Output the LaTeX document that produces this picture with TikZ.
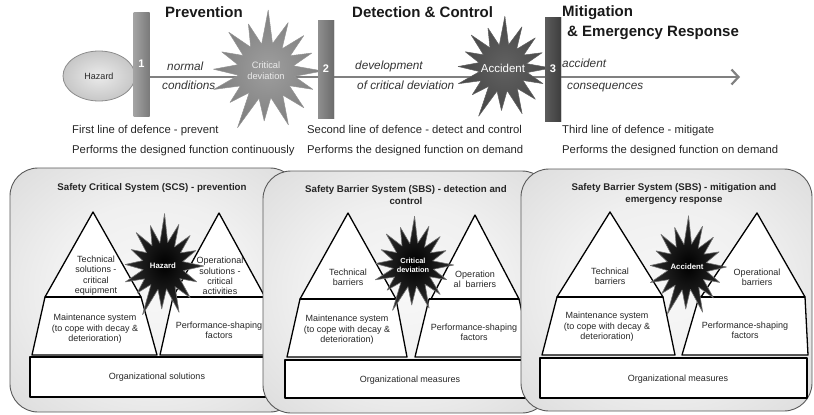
\documentclass[tikz,border=0pt]{standalone}
\usepackage{fontspec}
\setmainfont{Liberation Sans}
\usetikzlibrary{arrows.meta,calc,shapes.geometric}

% irregular explosion outline: angle/radius pairs, starting from (0:55)
\def\burstlist{11/28,22/49,33/27,45/52,56/29,68/58,80/27,92/50,104/28,116/63,127/27,138/47,149/29,160/54,171/27,182/51,193/28,204/47,215/27,227/53,238/28,250/50,261/27,272/61,283/28,294/53,305/27,316/51,327/28,338/48,349/27}

\newcommand{\burst}[4]{%
  \begin{scope}[shift={(#1)},xscale=#2,yscale=#3]
    \shadedraw[#4] (0:55) \foreach \a/\r in \burstlist {-- (\a:\r)} -- cycle;
  \end{scope}}

% soft light-grey glow for the system panels
\pgfdeclareradialshading{panelglow}{\pgfpoint{0bp}{0bp}}{%
  color(0bp)=(black!3); color(18bp)=(black!6); color(32bp)=(black!12);
  color(42bp)=(black!19); color(50bp)=(black!27)}

\begin{document}
\begin{tikzpicture}[x=1pt,y=-1pt,
  heading/.style={font=\bfseries\fontsize{15}{18}\selectfont, anchor=west, inner sep=0, text=black!90, text height=0.75em, text depth=0.2em},
  flowlabel/.style={font=\itshape\fontsize{11.8}{14}\selectfont, anchor=west, inner sep=0, text=black!80, text height=0.72em, text depth=0.2em},
  defence/.style={font=\fontsize{11.3}{13.5}\selectfont, anchor=west, inner sep=0, text=black!85, text height=0.72em, text depth=0.2em},
  barnode/.style={minimum width=16pt, inner sep=0, text=white, font=\bfseries\fontsize{11}{13}\selectfont, draw=none},
  flowline/.style={draw=black!50, line width=2.6pt, -{Straight Barb[length=7pt,width=15pt,line width=2.2pt]}},
  panelbox/.style={draw=black!65, line width=0.9pt, rounded corners=28pt, shading=panelglow},
  blockshape/.style={draw=black, line width=1.3pt, fill=white, line join=round},
  sepline/.style={draw=black, line width=2.6pt},
  paneltitle/.style={font=\bfseries\fontsize{9.7}{11.6}\selectfont, align=center, inner sep=0, text=black!85},
  paneltext/.style={font=\fontsize{9}{10.4}\selectfont, align=center, inner sep=0, text=black!85},
  darkburst/.style={inner color=black, outer color=black!82, draw=black!55, line width=0.6pt, line join=round},
  bursttext/.style={font=\bfseries\fontsize{7.8}{9}\selectfont, align=center, inner sep=0, text=white}
]
\useasboundingbox (0,0) rectangle (814,415);

% ---------------- event sequence ----------------
\node[ellipse, minimum width=72pt, minimum height=50pt, inner sep=0,
      draw=black!45, line width=0.8pt, inner color=black!8, outer color=black!22,
      font=\fontsize{9}{11}\selectfont, text=black!85] (hz) at (99,76) {Hazard};

\coordinate (arrowend) at (740,77);
\node[barnode, minimum height=104pt, left color=black!36, right color=black!52] (b1) at (141.5,64) {1};
\node[barnode, minimum height=98pt, left color=black!44, right color=black!58] (b2) at (326,69) {2};
\node[barnode, minimum height=104pt, left color=black!64, right color=black!76] (b3) at (553,69) {3};

\draw[flowline] (b1.east |- arrowend) -- (arrowend);

\coordinate (cdc) at (266,71);
\burst{cdc}{1.03}{1.0}{inner color=black!38, outer color=black!50, draw=black!42, line width=0.5pt, line join=round}
\coordinate (acc) at (503,68);
\burst{acc}{0.88}{0.85}{inner color=black!62, outer color=black!72, draw=black!62, line width=0.5pt, line join=round}

% bars drawn again over the bursts
\node[barnode, minimum height=98pt, left color=black!44, right color=black!58] (b2top) at (b2) {2};
\node[barnode, minimum height=104pt, left color=black!64, right color=black!76] (b3top) at (b3) {3};

\node[font=\fontsize{9.3}{11}\selectfont, align=center, text=black!8, inner sep=0] (cd) at (cdc) {Critical\\deviation};
\node[font=\fontsize{11.5}{13}\selectfont, text=white, inner sep=0] (ac) at (acc) {Accident};

\node[heading] (hprev) at (165,15) {Prevention};
\node[heading] (hdet) at (352,15) {Detection \& Control};
\node[heading] (hmit) at (562,14) {Mitigation};
\node[heading] (hemg) at (567,34) {\& Emergency Response};

\node[flowlabel] (fl1a) at (167,68) {normal};
\node[flowlabel] (fl1b) at (162,87) {conditions};
\node[flowlabel] (fl2a) at (355,67) {development};
\node[flowlabel] (fl2b) at (357,87) {of critical deviation};
\node[flowlabel] (fl3a) at (562,65) {accident};
\node[flowlabel] (fl3b) at (567,87) {consequences};

\node[defence] (d1a) at (72,131) {First line of defence - prevent};
\node[defence] (d1b) at (72,151) {Performs the designed function continuously};
\node[defence] (d2a) at (307,131) {Second line of defence - detect and control};
\node[defence] (d2b) at (307,151) {Performs the designed function on demand};
\node[defence] (d3a) at (562,131) {Third line of defence - mitigate};
\node[defence] (d3b) at (562,151) {Performs the designed function on demand};

% ---------------- panel 1: safety critical system ----------------
\shadedraw[panelbox] (10,168) rectangle (298,412);
\filldraw[blockshape] (93,212) -- (141,297) -- (45,297) -- cycle;
\filldraw[blockshape] (45,297) -- (141,297) -- (157,355) -- (32,355) -- cycle;
\filldraw[blockshape] (219,213) -- (265,297) -- (173,297) -- cycle;
\filldraw[blockshape] (173,297) -- (268,297) -- (282,355) -- (160,355) -- cycle;
\draw[sepline] (45,297) -- (141,297);
\draw[sepline] (173,297) -- (268,297);
\filldraw[blockshape] (30,357) rectangle (288,397);
\coordinate (p1s) at (163,266);
\burst{p1s}{0.74}{0.86}{darkburst}
\node[paneltitle] (t1) at (152,188) {Safety Critical System (SCS) - prevention};
\node[paneltext] (p1a) at (96,275.5) {Technical\\solutions -\\critical\\equipment};
\node[paneltext] (p1b) at (220,276) {Operational\\solutions -\\critical\\activities};
\node[paneltext] (p1c) at (95,329) {Maintenance system\\(to cope with decay \&\\deterioration)};
\node[paneltext] (p1d) at (219,330) {Performance-shaping\\factors};
\node[paneltext] (p1e) at (157,377) {Organizational solutions};
\node[bursttext] (p1h) at (p1s) {Hazard};

% ---------------- panel 2: safety barrier system, detection ----------------
\shadedraw[panelbox] (263,171) rectangle (550,413);
\filldraw[blockshape] (348,213) -- (396,299) -- (300,299) -- cycle;
\filldraw[blockshape] (300,299) -- (396,299) -- (407,357) -- (287,357) -- cycle;
\filldraw[blockshape] (475,215) -- (519,299) -- (431,299) -- cycle;
\filldraw[blockshape] (429,299) -- (519,299) -- (532,357) -- (415,357) -- cycle;
\draw[sepline] (300,299) -- (396,299);
\draw[sepline] (429,299) -- (519,299);
\filldraw[blockshape] (285,360) rectangle (545,398);
\coordinate (p2s) at (413,265);
\burst{p2s}{0.74}{0.8}{darkburst}
\node[paneltitle] (t2) at (406,195) {Safety Barrier System (SBS) - detection and\\control};
\node[paneltext] (p2a) at (348,277.5) {Technical\\barriers};
\node[paneltext] (p2b) at (475,279) {Operation\\al\ \ barriers};
\node[paneltext] (p2c) at (347,330) {Maintenance system\\(to cope with decay \&\\deterioration)};
\node[paneltext] (p2d) at (474,332) {Performance-shaping\\factors};
\node[paneltext] (p2e) at (410,380) {Organizational measures};
\node[bursttext, font=\bfseries\fontsize{7.4}{8.8}\selectfont] (p2h) at (p2s) {Critical\\deviation};

% ---------------- panel 3: safety barrier system, mitigation ----------------
\shadedraw[panelbox] (521,169) rectangle (812,411);
\filldraw[blockshape] (610,212) -- (663,297) -- (557,297) -- cycle;
\filldraw[blockshape] (557,297) -- (663,297) -- (675,355) -- (542,355) -- cycle;
\filldraw[blockshape] (757,213) -- (805,297) -- (701,297) -- cycle;
\filldraw[blockshape] (699,297) -- (805,297) -- (808,355) -- (682,355) -- cycle;
\draw[sepline] (557,297) -- (663,297);
\draw[sepline] (699,297) -- (805,297);
\filldraw[blockshape] (540,358) rectangle (807,398);
\coordinate (p3s) at (687,267);
\burst{p3s}{0.72}{0.84}{darkburst}
\node[paneltitle] (t3) at (674,194) {Safety Barrier System (SBS) - mitigation and\\emergency response};
\node[paneltext] (p3a) at (610,276) {Technical\\barriers};
\node[paneltext] (p3b) at (757,277) {Operational\\barriers};
\node[paneltext] (p3c) at (607,327) {Maintenance system\\(to cope with decay \&\\deterioration)};
\node[paneltext] (p3d) at (745,330) {Performance-shaping\\factors};
\node[paneltext] (p3e) at (678,379) {Organizational measures};
\node[bursttext] (p3h) at (p3s) {Accident};
\end{tikzpicture}
\end{document}
